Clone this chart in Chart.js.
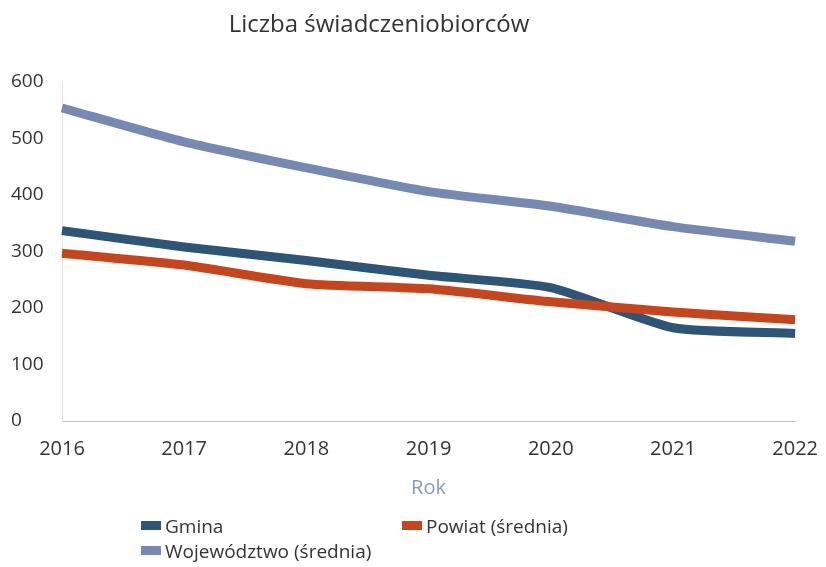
<!DOCTYPE html>
<html lang="pl">
<head>
<meta charset="utf-8">
<script src="https://cdn.jsdelivr.net/npm/chart.js@4.4.1/dist/chart.umd.min.js"></script>
<style>
  html, body { margin: 0; padding: 0; background: #fff; }
  #wrap { position: relative; width: 826px; height: 567px; }
  #legend { position: absolute; left: 141px; top: 514px; width: 540px;
    font-family: "Open Sans", sans-serif; font-size: 19px; color: #333;
    display: grid; grid-template-columns: 261px 270px; row-gap: 0; line-height: 25px; }
  #legend span.box { display: inline-block; width: 20px; height: 9px; margin-right: 4px; vertical-align: 3px; }
</style>
</head>
<body>
<div id="wrap">
  <canvas id="chart" width="826" height="567"></canvas>
  <div id="legend"></div>
</div>
<script>
const years = ['2016', '2017', '2018', '2019', '2020', '2021', '2022'];
const gmina = [337, 308, 284, 258, 236, 165, 155];
const powiat = [297, 276, 243, 234, 211, 193, 179];
const wojewodztwo = [554, 494, 448, 406, 380, 344, 318];
const yTicks = [0, 100, 200, 300, 400, 500, 600];

const series = [
  { label: 'Gmina', data: gmina, color: '#2e5478', order: 1 },
  { label: 'Powiat (średnia)', data: powiat, color: '#c5451d', order: 0 },
  { label: 'Województwo (średnia)', data: wojewodztwo, color: '#7788b2', order: 2 }
];

const titlePlugin = {
  id: 'titleText',
  afterDraw(chart) {
    const ctx = chart.ctx;
    ctx.save();
    ctx.font = '24px "Open Sans", sans-serif';
    ctx.fillStyle = '#333';
    ctx.textAlign = 'center';
    ctx.textBaseline = 'middle';
    ctx.fillText('Liczba świadczeniobiorców', 379, 25);
    ctx.restore();
  }
};

new Chart(document.getElementById('chart').getContext('2d'), {
  type: 'line',
  data: {
    labels: years,
    datasets: series.map(s => ({
      label: s.label,
      data: s.data,
      borderColor: s.color,
      backgroundColor: s.color,
      borderWidth: 9,
      pointRadius: 0,
      tension: 0.2,
      order: s.order
    }))
  },
  options: {
    responsive: false,
    animation: false,
    layout: { padding: { left: 11, right: 24, top: 82, bottom: 66 } },
    plugins: { legend: { display: false }, title: { display: false }, tooltip: { enabled: false } },
    scales: {
      x: {
        offset: false,
        grid: { display: false },
        border: { display: true, color: '#b3bfd0', width: 1 },
        ticks: { color: '#333', padding: 8, font: { family: 'Open Sans', size: 20 }, maxRotation: 0 },
        title: { display: true, text: 'Rok', color: '#8a9ab8', padding: { top: 0, bottom: 1 }, font: { family: 'Open Sans', size: 20 } },
        afterFit(scale) { scale.height = 80; }
      },
      y: {
        min: 0,
        max: 600,
        afterBuildTicks(scale) { scale.ticks = yTicks.map(v => ({ value: v })); },
        grid: { display: false },
        border: { display: true, color: '#e2e2e2', width: 1 },
        ticks: { color: '#333', crossAlign: 'far', padding: 10, font: { family: 'Open Sans', size: 19 } },
        afterFit(scale) { scale.width = 51; }
      }
    }
  },
  plugins: [titlePlugin]
});

const legend = document.getElementById('legend');
series.forEach(s => {
  const item = document.createElement('div');
  item.innerHTML = '<span class="box" style="background:' + s.color + '"></span>' + s.label;
  legend.appendChild(item);
});
</script>
</body>
</html>
